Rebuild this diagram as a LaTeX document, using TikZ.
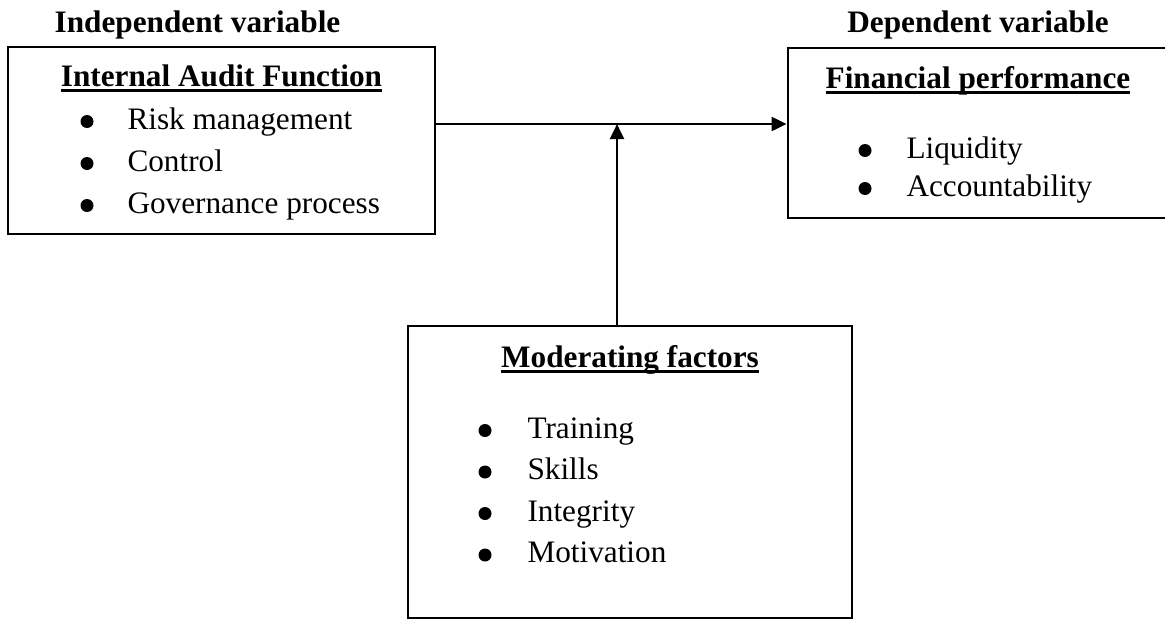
\documentclass[tikz,border=0pt]{standalone}
\usepackage{fontspec}
\setmainfont{Liberation Serif}
\usetikzlibrary{arrows.meta}
\usetikzlibrary{fit}
\usetikzlibrary{positioning}

\newcommand{\figfont}{\fontsize{12.5pt}{15pt}\selectfont}
\newsavebox{\ulbox}
\newcommand{\headline}[1]{\sbox{\ulbox}{#1}\rlap{\rule[-2.5pt]{\wd\ulbox}{1.2pt}}\usebox{\ulbox}}

\begin{document}
\begin{tikzpicture}
  [x=0.4pt, y=-0.4pt,
   varbox/.style={draw, line width=1.1pt, inner sep=0pt},
   head/.style={inner sep=0pt, anchor=base, font=\figfont\bfseries},
   item/.style={inner sep=0pt, anchor=base west, font=\figfont},
   dot/.style={circle, fill, inner sep=0pt, minimum size=5.2pt},
   tip/.style={-{Triangle[length=6pt,width=5.5pt]}}
  ]
  \useasboundingbox (0,0) rectangle (1165,620);

  % the three boxes
  \node (iaf) [varbox, fit={(8,47) (435,234)}] {};
  \node (fin) [varbox, fit={(788,48) (1168,218)}] {};
  \node (mod) [varbox, fit={(408,326) (852,618)}] {};

  \node (indep) [head] at (197.5,32) {Independent variable};
  \node (dep)   [head] at (978,32)   {Dependent variable};

  \node (iaftitle) [head] at (221.5,86) {\headline{Internal Audit Function}};
  \node (fintitle) [head] at (978,88)   {\headline{Financial performance}};
  \node (modtitle) [head] at (630,367)  {\headline{Moderating factors}};

  % Internal Audit Function list
  \path
    (127,129) node (risk)    [item] {Risk management}
    ++(0,42)  node (control) [item] {Control}
    ++(0,42)  node (gov)     [item] {Governance process};
  \path
    (87,121.5) node (riskdot)    [dot] {}
    ++(0,42)   node (controldot) [dot] {}
    ++(0,42)   node (govdot)     [dot] {};

  % Financial performance list
  \path
    (906,158) node (liq) [item] {Liquidity}
    ++(0,38)  node (acc) [item] {Accountability};
  \path
    (865,150.5) node (liqdot) [dot] {}
    ++(0,38)    node (accdot) [dot] {};

  % Moderating factors list
  \path
    (527,438)  node (train) [item] {Training}
    ++(0,41.5) node (skill) [item] {Skills}
    ++(0,41.5) node (integ) [item] {Integrity}
    ++(0,41.5) node (motiv) [item] {Motivation};
  \path
    (485,430.5) node (traindot) [dot] {}
    ++(0,41.5)  node (skilldot) [dot] {}
    ++(0,41.5)  node (integdot) [dot] {}
    ++(0,41.5)  node (motivdot) [dot] {};

  \coordinate (join) at (617,124);
  \begin{scope}[line width=1.1pt]
    \draw [tip] (iaf.east |- join) -- (fin.west |- join);
    \draw [tip] (join |- mod.north) -- (join);
  \end{scope}
\end{tikzpicture}
\end{document}
